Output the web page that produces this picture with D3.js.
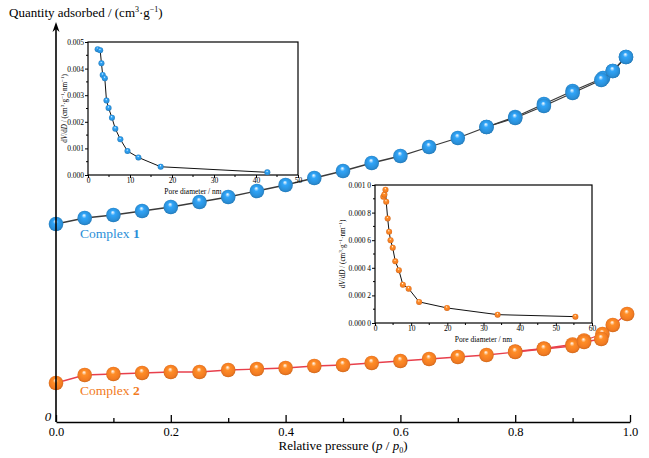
<!DOCTYPE html>
<html>
<head>
<meta charset="utf-8">
<script src="https://cdn.jsdelivr.net/npm/d3@7"></script>
<style>
  body { margin: 0; background: #fff; }
  svg { font-family: "Liberation Serif", "Times New Roman", serif; }
  .axis path, .axis line { stroke: #000; }
</style>
</head>
<body>
<svg width="649" height="458"></svg>
<script>
// main isotherms (relative pressure vs quantity adsorbed, arbitrary units)
var p1Ads = [0, 0.05, 0.1, 0.15, 0.2, 0.25, 0.3, 0.35, 0.4, 0.45, 0.5, 0.55, 0.6, 0.65, 0.7, 0.75, 0.8, 0.85, 0.9, 0.95, 0.97, 0.993];
var q1Ads = [198, 204, 207, 211, 215, 220, 225, 231, 237, 244, 251, 259, 266, 275, 284, 295, 304, 316, 329, 342, 351, 365];
var p1Des = [0.993, 0.97, 0.953, 0.9, 0.85, 0.8, 0.75];
var q1Des = [365, 351, 344, 331, 318, 305, 295];

var p2Ads = [0, 0.05, 0.1, 0.15, 0.2, 0.25, 0.3, 0.35, 0.4, 0.45, 0.5, 0.55, 0.6, 0.65, 0.7, 0.75, 0.8, 0.85, 0.9, 0.92, 0.95];
var q2Ads = [39, 47, 48, 49, 50, 50, 52, 53, 54, 56, 57, 59, 61, 63, 65, 67, 70, 73, 76, 80, 83];
var p2Des = [0.995, 0.97, 0.952, 0.92, 0.9, 0.85, 0.8];
var q2Des = [108, 97, 88, 81.5, 77.5, 73.5, 70.5];

// pore size distributions
var d1 = [2.3, 2.9, 3.2, 3.5, 4.0, 4.4, 4.9, 5.7, 6.5, 7.7, 9.4, 12.0, 17.3, 42.7];
var v1 = [0.00473, 0.00469, 0.0042, 0.00376, 0.00364, 0.0028, 0.00252, 0.00215, 0.00174, 0.00134, 0.0009, 0.00066, 0.00031, 0.0001];
var d2 = [2.3, 2.6, 2.9, 3.1, 3.5, 3.9, 4.3, 4.9, 5.6, 6.6, 7.7, 9.3, 12.2, 19.9, 33.9, 55.4];
var v2 = [0.000915, 0.000932, 0.000966, 0.000879, 0.000758, 0.000661, 0.0006, 0.000545, 0.000448, 0.000383, 0.000278, 0.000249, 0.000153, 0.000109, 0.0000605, 0.000046];

var xTicks = [0, 0.2, 0.4, 0.6, 0.8, 1.0];
var ticks1 = [0, 0.001, 0.002, 0.003, 0.004, 0.005];
var ticks2 = [0, 0.0002, 0.0004, 0.0006, 0.0008, 0.001];
var tickLabels2 = ["0.000 0", "0.000 2", "0.000 4", "0.000 6", "0.000 8", "0.001 0"];

var blue = "#2a8fd8", orange = "#f27b22";

var svg = d3.select("svg");

// sphere-like gradients for the markers
var defs = svg.append("defs");
function sphere(id, c) {
  var gr = defs.append("radialGradient").attr("id", id)
    .attr("cx", "50%").attr("cy", "50%").attr("r", "55%")
    .attr("fx", "45%").attr("fy", "30%");
  gr.append("stop").attr("offset", "0%").attr("stop-color", "#fff");
  gr.append("stop").attr("offset", "30%").attr("stop-color", d3.color(c).brighter(0.4));
  gr.append("stop").attr("offset", "75%").attr("stop-color", c);
  gr.append("stop").attr("offset", "100%").attr("stop-color", d3.color(c).darker(0.6));
}
sphere("gBlue", blue);
sphere("gOrange", orange);

// main scales
var x = d3.scaleLinear().domain([0, 1]).range([56, 630]),
  y = d3.scaleLinear().domain([0, 400]).range([422, 22]);

function zip(a, b) { return a.map(function(v, i) { return [v, b[i]]; }); }

var line = d3.line()
  .x(function(d) { return x(d[0]); })
  .y(function(d) { return y(d[1]); });

function series(px, qy, lineColor, grad, r) {
  var data = zip(px, qy);
  svg.append("path").datum(data)
    .attr("d", line)
    .attr("fill", "none")
    .attr("stroke", lineColor)
    .attr("stroke-width", 1.3);
  svg.append("g").selectAll("circle").data(data).enter().append("circle")
    .attr("cx", function(d) { return x(d[0]); })
    .attr("cy", function(d) { return y(d[1]); })
    .attr("r", r)
    .attr("fill", "url(#" + grad + ")");
}

series(p1Des, q1Des, "#3a3a3a", "gBlue", 7.3);
series(p1Ads, q1Ads, "#3a3a3a", "gBlue", 7.3);
series(p2Des, q2Des, "#e8404c", "gOrange", 7.3);
series(p2Ads, q2Ads, "#e8404c", "gOrange", 7.3);

// x axis
var xAxis = d3.axisBottom(x)
  .tickValues(d3.range(0, 1.001, 0.1))
  .tickSizeInner(-4).tickSizeOuter(0)
  .tickFormat(function(d) {
    var r = Math.round(d * 10);
    return r % 2 === 0 ? d3.format(".1f")(d) : "";
  });
var gx = svg.append("g").attr("class", "axis")
  .attr("transform", "translate(0," + y(0) + ")")
  .call(xAxis);
gx.select(".domain").attr("stroke-width", 1.5);
gx.selectAll(".tick line")
  .attr("y2", function(d) { return Math.round(d * 10) % 2 === 0 ? -7 : -4; })
  .attr("stroke-width", 1.3);
gx.selectAll(".tick text").attr("y", 5).attr("font-size", 12.5)
  .attr("font-family", "Liberation Serif").attr("fill", "#000");

// y axis with arrow
svg.append("line").attr("x1", x(0)).attr("x2", x(0))
  .attr("y1", y(0)).attr("y2", 28)
  .attr("stroke", "#000").attr("stroke-width", 1.6);
svg.append("path")
  .attr("d", "M" + x(0) + ",22 L" + (x(0) - 3.5) + ",32 L" + x(0) + ",29 L" + (x(0) + 3.5) + ",32 Z")
  .attr("fill", "#000");

svg.append("text").attr("x", 48).attr("y", 421)
  .attr("text-anchor", "middle").attr("font-size", 13).attr("font-style", "italic")
  .text("0");

var yt = svg.append("text").attr("x", 9).attr("y", 17).attr("font-size", 13);
yt.append("tspan").text("Quantity adsorbed / (cm");
yt.append("tspan").attr("font-size", 8).attr("dy", -5).text("3");
yt.append("tspan").attr("dy", 5).text("\u00b7g");
yt.append("tspan").attr("font-size", 8).attr("dy", -5).text("\u22121");
yt.append("tspan").attr("dy", 5).text(")");

var xt = svg.append("text").attr("x", 343).attr("y", 450)
  .attr("text-anchor", "middle").attr("font-size", 13);
xt.append("tspan").text("Relative pressure (");
xt.append("tspan").attr("font-style", "italic").text("p");
xt.append("tspan").text(" / ");
xt.append("tspan").attr("font-style", "italic").text("p");
xt.append("tspan").attr("font-size", 8).attr("dy", 3).text("0");
xt.append("tspan").attr("dy", -3).text(")");

// series labels
var l1 = svg.append("text").attr("x", 80).attr("y", 238).attr("font-size", 13.5).attr("fill", blue);
l1.append("tspan").text("Complex ");
l1.append("tspan").attr("font-weight", "bold").text("1");
var l2 = svg.append("text").attr("x", 80).attr("y", 395).attr("font-size", 13.5).attr("fill", orange);
l2.append("tspan").text("Complex ");
l2.append("tspan").attr("font-weight", "bold").text("2");

// inset charts
function inset(box, xMax, yMax, yTicks, yFmt, dd, vv, grad, labelX) {
  var ix = d3.scaleLinear().domain([0, xMax]).range([box.x0, box.x1]),
    iy = d3.scaleLinear().domain([0, yMax]).range([box.y1, box.y0]);
  var g = svg.append("g");
  g.append("rect").attr("x", box.x0).attr("y", box.y0)
    .attr("width", box.x1 - box.x0).attr("height", box.y1 - box.y0)
    .attr("fill", "#fff").attr("stroke", "#000").attr("stroke-width", 1.2);

  var ax = g.append("g").attr("transform", "translate(0," + box.y1 + ")")
    .call(d3.axisBottom(ix).ticks(xMax / 10).tickSize(3).tickSizeOuter(0));
  ax.select(".domain").remove();
  ax.selectAll(".tick line").attr("stroke", "#000");
  ax.selectAll(".tick text").attr("y", 3).attr("font-size", 7.5)
    .attr("font-family", "Liberation Serif").attr("fill", "#000");
  // minor x ticks
  g.append("g").selectAll("line").data(d3.range(5, xMax, 10)).enter().append("line")
    .attr("x1", function(d) { return ix(d); }).attr("x2", function(d) { return ix(d); })
    .attr("y1", box.y1).attr("y2", box.y1 + 2).attr("stroke", "#000");

  var ay = g.append("g").attr("transform", "translate(" + box.x0 + ",0)")
    .call(d3.axisLeft(iy).tickValues(yTicks).tickSize(3).tickSizeOuter(0).tickFormat(yFmt));
  ay.select(".domain").remove();
  ay.selectAll(".tick line").attr("stroke", "#000");
  ay.selectAll(".tick text").attr("x", -4).attr("font-size", 7.5)
    .attr("font-family", "Liberation Serif").attr("fill", "#000");
  g.append("g").selectAll("line").data(yTicks.slice(1).map(function(t) { return t - yTicks[1] / 2; }))
    .enter().append("line")
    .attr("x1", box.x0).attr("x2", box.x0 - 2)
    .attr("y1", function(d) { return iy(d); }).attr("y2", function(d) { return iy(d); })
    .attr("stroke", "#000");

  var data = zip(dd, vv);
  g.append("path").datum(data)
    .attr("d", d3.line().x(function(d) { return ix(d[0]); }).y(function(d) { return iy(d[1]); }))
    .attr("fill", "none").attr("stroke", "#111").attr("stroke-width", 1);
  g.append("g").selectAll("circle").data(data).enter().append("circle")
    .attr("cx", function(d) { return ix(d[0]); })
    .attr("cy", function(d) { return iy(d[1]); })
    .attr("r", 3).attr("fill", "url(#" + grad + ")");

  g.append("text").attr("x", (box.x0 + box.x1) / 2).attr("y", box.y1 + 19)
    .attr("text-anchor", "middle").attr("font-size", 7.5).text("Pore diameter / nm");

  var yl = g.append("text").attr("font-size", 7.2).attr("text-anchor", "middle")
    .attr("transform", "translate(" + labelX + "," + ((box.y0 + box.y1) / 2) + ") rotate(-90)");
  yl.append("tspan").text("d");
  yl.append("tspan").attr("font-style", "italic").text("V");
  yl.append("tspan").text("/d");
  yl.append("tspan").attr("font-style", "italic").text("D");
  yl.append("tspan").text(" / (cm");
  yl.append("tspan").attr("font-size", 5).attr("dy", -3).text("3");
  yl.append("tspan").attr("dy", 3).text("\u00b7g");
  yl.append("tspan").attr("font-size", 5).attr("dy", -3).text("\u22121");
  yl.append("tspan").attr("dy", 3).text("\u00b7nm");
  yl.append("tspan").attr("font-size", 5).attr("dy", -3).text("\u22121");
  yl.append("tspan").attr("dy", 3).text(")");
}

inset({x0: 88, x1: 298, y0: 42, y1: 175}, 50, 0.005, ticks1, d3.format(".3f"), d1, v1, "gBlue", 67);
inset({x0: 375, x1: 592, y0: 185, y1: 323}, 60, 0.001, ticks2,
  function(d, i) { return tickLabels2[i]; }, d2, v2, "gOrange", 345);
</script>
</body>
</html>
